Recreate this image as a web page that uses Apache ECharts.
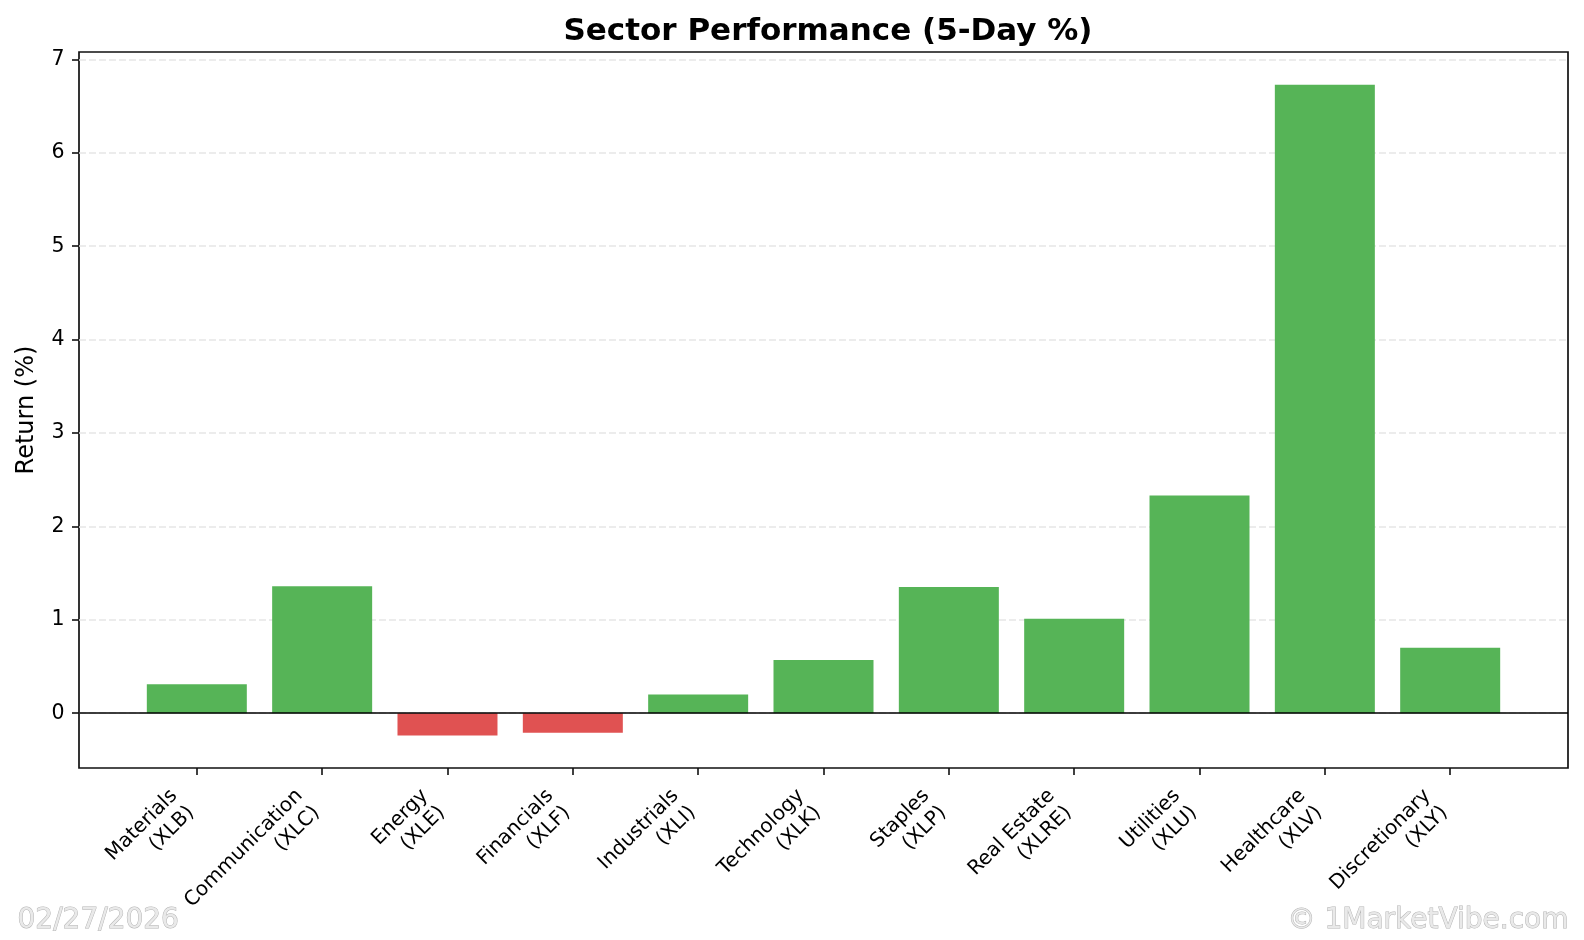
<!DOCTYPE html>
<html>
<head>
<meta charset="utf-8">
<script src="https://cdn.jsdelivr.net/npm/echarts@6/dist/echarts.min.js"></script>
<style>
html,body{margin:0;padding:0;background:#fff;}
#chart{width:1584px;height:940px;}
</style>
</head>
<body>
<div id="chart"></div>
<script>
const sectors = ['Materials', 'Communication', 'Energy', 'Financials', 'Industrials', 'Technology', 'Staples', 'Real Estate', 'Utilities', 'Healthcare', 'Discretionary'];
const tickers = ['XLB', 'XLC', 'XLE', 'XLF', 'XLI', 'XLK', 'XLP', 'XLRE', 'XLU', 'XLV', 'XLY'];
const returns5d = [0.31, 1.36, -0.24, -0.21, 0.20, 0.57, 1.35, 1.01, 2.33, 6.73, 0.70];
const yTicks = [0, 1, 2, 3, 4, 5, 6, 7];
const dateText = '02/27/2026';
const brandText = '\u00A9 1MarketVibe.com';

const FONT = 'DejaVu Sans';
const green = '#56b457';
const red = '#e05252';

const xIdx = sectors.map((_, i) => i);
const barData = returns5d.map((v, i) => ({
  value: [i, v],
  itemStyle: { color: v >= 0 ? green : red }
}));

const wmStyle = {
  font: '28px "DejaVu Sans"', fill: '#e9e9e9',
  stroke: '#b4b4b4', lineWidth: 1,
  shadowColor: 'rgba(0,0,0,0.4)', shadowOffsetX: 1, shadowOffsetY: 1, shadowBlur: 0
};

const chart = echarts.init(document.getElementById('chart'), null, { renderer: 'canvas' });
chart.setOption({
  animation: false,
  backgroundColor: '#ffffff',
  title: {
    text: 'Sector Performance (5-Day %)',
    left: 823,
    top: 11,
    textAlign: 'center',
    textStyle: { fontFamily: FONT, fontSize: 31, fontWeight: 'bold', color: '#000' }
  },
  grid: {
    left: 79, right: 16, top: 52, bottom: 172,
    show: true, borderColor: '#111', borderWidth: 1.7, backgroundColor: 'transparent'
  },
  xAxis: {
    type: 'value',
    min: -0.94,
    max: 10.94,
    minInterval: 1,
    maxInterval: 1,
    axisLine: { show: false, onZero: false },
    axisTick: { show: true, length: 7, lineStyle: { color: '#111', width: 1.6 }, customValues: xIdx },
    splitLine: { show: false },
    axisLabel: {
      customValues: xIdx,
      showMinLabel: true,
      showMaxLabel: true,
      rotate: 45,
      margin: 19,
      padding: [0, 20, 0, 0],
      fontFamily: FONT,
      fontSize: 20,
      color: '#000',
      lineHeight: 24,
      formatter: function (v) {
        const i = Math.round(v);
        if (Math.abs(v - i) > 1e-6 || i < 0 || i >= sectors.length) return '';
        return sectors[i] + '\n(' + tickers[i] + ')';
      }
    }
  },
  yAxis: {
    type: 'value',
    min: -0.587,
    max: 7.08,
    minInterval: 1,
    maxInterval: 1,
    name: 'Return (%)',
    nameLocation: 'middle',
    nameGap: 40,
    nameTextStyle: { fontFamily: FONT, fontSize: 24, color: '#000' },
    axisLine: { show: false, onZero: false },
    axisTick: { show: true, length: 7, lineStyle: { color: '#111', width: 1.6 }, customValues: yTicks },
    axisLabel: {
      customValues: yTicks,
      showMinLabel: true,
      showMaxLabel: true,
      margin: 14.5,
      fontFamily: FONT,
      fontSize: 20.5,
      color: '#000',
      formatter: function (v) { return String(v); }
    },
    splitLine: { show: true, lineStyle: { color: '#e6e6e6', width: 1.5, type: [7, 3] } }
  },
  series: [{
    type: 'bar',
    data: barData,
    barWidth: 100,
    z: 3,
    markLine: {
      silent: true,
      symbol: 'none',
      label: { show: false },
      lineStyle: { color: '#000', width: 1.7, type: 'solid' },
      data: [{ yAxis: 0 }]
    }
  }],
  graphic: [
    { type: 'text', left: 17, top: 906, silent: true, style: Object.assign({ text: dateText }, wmStyle) },
    { type: 'text', right: 15, top: 906, silent: true, style: Object.assign({ text: brandText }, wmStyle) }
  ]
});
</script>
</body>
</html>
